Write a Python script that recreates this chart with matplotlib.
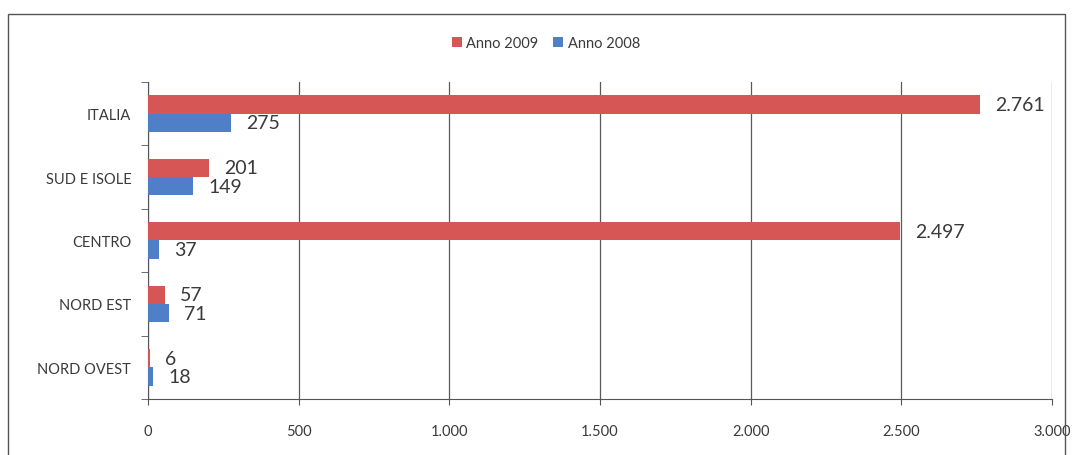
import matplotlib.pyplot as plt
from matplotlib.patches import Rectangle
from matplotlib.ticker import FuncFormatter
import numpy as np

plt.rcParams['font.family'] = ['Lato', 'DejaVu Sans']

categories = ["ITALIA", "SUD E ISOLE", "CENTRO", "NORD EST", "NORD OVEST"]
anno_2009 = [2761, 201, 2497, 57, 6]
anno_2008 = [275, 149, 37, 71, 18]
x_ticks = [0, 500, 1000, 1500, 2000, 2500, 3000]

red = "#d65656"
blue = "#4f7fc6"
text_col = "#3a3a3a"


def ita(v, pos=None):
    return f"{int(v):,}".replace(",", ".")


fig = plt.figure(figsize=(10.75, 4.56), dpi=100)
ax = fig.add_axes([0.1377, 0.1228, 0.8409, 0.6952])

# outer chart frame
fig.patches.append(Rectangle((8 / 1075, -0.05), 1057 / 1075, 1.05 - 15 / 456,
                             transform=fig.transFigure, fill=False,
                             edgecolor="#555555", linewidth=1.0))

y = np.arange(len(categories))[::-1]
h = 0.29
ax.barh(y + h / 2, anno_2009, height=h, color=red, label="Anno 2009", zorder=3)
ax.barh(y - h / 2, anno_2008, height=h, color=blue, label="Anno 2008", zorder=3)

for yi, v in zip(y, anno_2009):
    ax.text(v + 50, yi + h / 2, ita(v), va="center", ha="left",
            fontsize=14, color=text_col)
for yi, v in zip(y, anno_2008):
    ax.text(v + 50, yi - h / 2, ita(v), va="center", ha="left",
            fontsize=14, color=text_col)

ax.set_xlim(0, 3000)
ax.set_ylim(-0.5, len(categories) - 0.5)
ax.set_xticks(x_ticks)
ax.xaxis.set_major_formatter(FuncFormatter(ita))
ax.set_yticks(y)
ax.set_yticklabels(categories)
ax.set_yticks(np.arange(-0.5, len(categories), 1), minor=True)
ax.tick_params(axis="y", which="major", length=0, pad=12, labelsize=10.5, labelcolor=text_col)
ax.tick_params(axis="y", which="minor", length=5, direction="out", color="#555555")
ax.tick_params(axis="x", length=4, direction="out", pad=14, labelsize=10.5,
               labelcolor=text_col, color="#555555")

ax.grid(axis="x", color="#5a5a5a", linewidth=0.9, zorder=0)
for s in ["top", "right"]:
    ax.spines[s].set_visible(False)
for s in ["left", "bottom"]:
    ax.spines[s].set_color("#555555")

ax.legend(loc="center", bbox_to_anchor=(0.44, 1.123), ncol=2, frameon=False,
          fontsize=10.5, handlelength=0.7, handleheight=0.7, handletextpad=0.3,
          columnspacing=1.0, labelcolor=text_col)

fig.savefig("out.png", dpi=100)
